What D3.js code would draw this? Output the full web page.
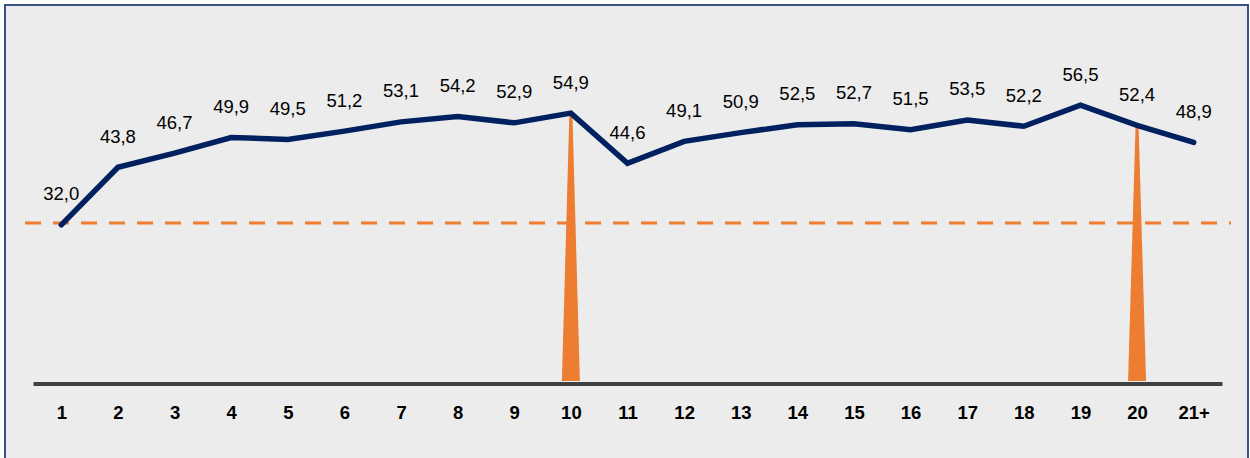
<!DOCTYPE html>
<html>
<head>
<meta charset="utf-8">
<script src="https://cdn.jsdelivr.net/npm/d3@7"></script>
<style>
  html, body { margin: 0; padding: 0; background: #ffffff; }
  svg { display: block; }
</style>
</head>
<body>
<svg id="chart" width="1250" height="458"></svg>
<script>
const categories = ["1","2","3","4","5","6","7","8","9","10","11","12","13","14","15","16","17","18","19","20","21+"];
const values = [32.0,43.8,46.7,49.9,49.5,51.2,53.1,54.2,52.9,54.9,44.6,49.1,50.9,52.5,52.7,51.5,53.5,52.2,56.5,52.4,48.9];
const spikeCategories = ["10","20"];
const thresholdValue = 32.4;

const svg = d3.select("#chart");
const W = 1250, H = 458;

// background & frame
svg.append("rect").attr("x", 0).attr("y", 0).attr("width", W).attr("height", H).attr("fill", "#ffffff");
svg.append("rect").attr("x", 5).attr("y", 5).attr("width", 1243).attr("height", 460)
  .attr("fill", "#ececec").attr("stroke", "#3b5384").attr("stroke-width", 2);

const x = d3.scalePoint().domain(categories).range([33, 1222]).padding(0.5);
const y = d3.scaleLinear().domain([0, 60]).range([381, 381 - 60 * 4.88]);

const data = categories.map((c, i) => ({ c, v: values[i] }));

// spikes
svg.append("g").selectAll("path").data(data.filter(d => spikeCategories.includes(d.c)))
  .join("path")
  .attr("d", d => {
    const cx = x(d.c);
    return `M${cx - 1.5},${y(d.v)} L${cx + 1.5},${y(d.v)} L${cx + 9},${y(0)} L${cx - 9},${y(0)} Z`;
  })
  .attr("fill", "#ed7d31");

// threshold dashed line
svg.append("line")
  .attr("x1", 25).attr("x2", 1231)
  .attr("y1", y(thresholdValue)).attr("y2", y(thresholdValue))
  .attr("stroke", "#ed7d31").attr("stroke-width", 3)
  .attr("stroke-dasharray", "16,12");

// axis
const axis = d3.axisBottom(x).tickSize(0).tickSizeOuter(0);
const gAxis = svg.append("g").attr("transform", "translate(0,383.5)").call(axis);
gAxis.select(".domain").attr("stroke", "#404040").attr("stroke-width", 4);
gAxis.selectAll("text")
  .attr("y", 35).attr("dy", null)
  .attr("font-family", "'Liberation Sans', Arial, sans-serif")
  .attr("font-size", 18.5).attr("font-weight", "bold").attr("fill", "#000");

// line
const line = d3.line().x(d => x(d.c)).y(d => y(d.v));
svg.append("path").datum(data)
  .attr("d", line)
  .attr("fill", "none").attr("stroke", "#002060").attr("stroke-width", 5.5)
  .attr("stroke-linejoin", "miter").attr("stroke-linecap", "round");

// labels
svg.append("g").selectAll("text").data(data).join("text")
  .attr("x", d => x(d.c))
  .attr("y", d => y(d.v) - 24.5)
  .attr("text-anchor", "middle")
  .attr("font-family", "'Liberation Sans', Arial, sans-serif")
  .attr("font-size", 18.5).attr("fill", "#000")
  .text(d => d.v.toFixed(1).replace(".", ","));
</script>
</body>
</html>
